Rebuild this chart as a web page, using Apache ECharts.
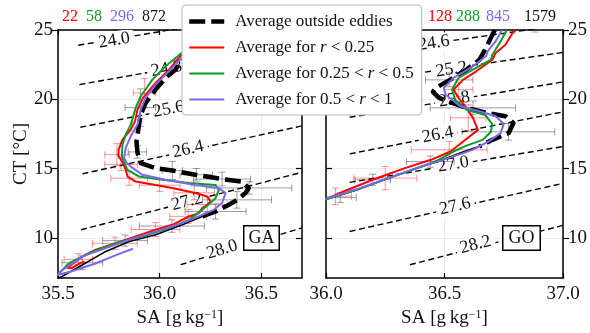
<!DOCTYPE html>
<html>
<head>
<meta charset="utf-8">
<script src="https://cdn.jsdelivr.net/npm/echarts@6/dist/echarts.min.js"></script>
<style>
  html, body { margin: 0; padding: 0; background: #ffffff; }
  #chart { width: 590px; height: 333px; }
</style>
</head>
<body>
<div id="chart"></div>
<script>
// ---- shared settings -------------------------------------------------------
const SERIF = '"Liberation Serif", "DejaVu Serif", serif';
const seriesNames = [
  'Average outside eddies',
  'Average for r < 0.25',
  'Average for 0.25 < r < 0.5',
  'Average for 0.5 < r < 1'
];
const seriesColors = ['#000000', '#ff0000', '#0c9a26', '#7b68ee'];
// count labels are listed inner, middle, outer, outside
const countColors = ['#ff0000', '#0c9a26', '#7b68ee', '#111111'];
const ctTicks = [10, 15, 20, 25];
const ctRange = [7.1, 25];

// ---- GA panel ---------------------------------------------------------------
const gaTitle = 'GA';
const gaCounts = [22, 58, 296, 872];
const gaSaRange = [35.5, 36.7];
const gaSaTicks = [35.5, 36.0, 36.5];

// [SA, CT] profiles
const gaOutside = [[36.22,25.0],[36.127,23.2],[36.078,22.14],[36.029,21.54],[35.980,20.70],[35.931,19.74],
  [35.907,18.89],[35.896,17.93],[35.886,16.97],[35.891,16.13],[35.907,15.39],[35.980,15.03],[36.062,14.86],
  [36.176,14.55],[36.307,14.24],[36.405,14.06],[36.438,13.59],[36.422,13.23],[36.381,12.74],[36.340,12.38],
  [36.275,11.90],[36.209,11.54]];
const gaOutsideDeep = [[36.209,11.54],[36.111,10.94],[35.980,10.22],[35.850,9.74],[35.735,9.02],[35.621,8.06],
  [35.506,7.10],[35.49,6.99]];
const gaInner = [[36.25,25.0],[36.108,23.22],[36.046,22.14],[35.980,21.18],[35.918,20.10],[35.891,19.25],
  [35.879,18.42],[35.858,17.81],[35.817,17.09],[35.798,16.37],[35.797,15.92],[35.817,15.48],[35.833,14.91],
  [35.842,14.42],[35.882,14.06],[35.980,13.82],[36.062,13.59],[36.176,13.23],[36.234,12.98],[36.250,12.62],
  [36.234,12.38],[36.209,12.14],[36.193,11.78],[36.144,11.54],[36.062,10.94],[35.980,10.58],[35.882,10.10],
  [35.784,9.62],[35.686,9.14],[35.621,8.66],[35.555,7.93],[35.545,7.85],[35.565,7.80],[35.600,8.10],[35.630,8.30]];
const gaMid = [[36.24,25.0],[36.108,23.34],[36.029,22.38],[35.964,21.42],[35.907,20.22],[35.882,19.38],
  [35.858,18.17],[35.833,17.45],[35.817,16.73],[35.814,15.89],[35.825,15.48],[35.842,14.91],[35.899,14.42],
  [36.013,14.19],[36.144,13.95],[36.275,13.82],[36.291,13.46],[36.275,12.87],[36.250,12.51],[36.209,12.02],
  [36.144,11.30],[36.046,10.70],[35.915,10.10],[35.784,9.62],[35.653,8.90],[35.555,8.18],[35.49,7.21]];
const gaOuter = [[36.23,25.0],[36.108,22.98],[36.046,22.02],[35.980,21.06],[35.931,20.10],[35.907,19.25],
  [35.891,18.17],[35.858,17.34],[35.833,16.49],[35.825,15.77],[35.838,15.41],[35.858,15.14],[35.915,14.55],
  [36.029,14.19],[36.176,13.82],[36.291,13.59],[36.324,13.23],[36.307,12.51],[36.266,12.02],[36.209,11.66],
  [36.111,11.06],[35.980,10.46],[35.850,9.86],[35.735,9.26],[35.621,8.66],[35.510,7.55],[35.500,7.33],
  [35.559,7.55],[35.681,8.13],[35.779,8.71],[35.868,9.21]];

// [SA, CT, SA spread, CT spread]
const gaOutsideErr = [[35.905,19.4,0.075,1.35],[35.89,16.2,0.045,0.45],[36.062,14.86,0.05,0.65],
  [36.18,14.55,0.08,0.45],[36.307,14.24,0.14,0.5],[36.44,13.6,0.21,0.45],[36.38,12.74,0.17,0.6],
  [36.275,11.9,0.15,0.55],[36.06,10.85,0.16,0.45],[35.83,9.8,0.11,0.4],[35.62,8.2,0.1,0.5]];
const gaInnerErr = [[35.925,20.45,0.055,1.05],[35.79,16.0,0.06,0.8],[35.81,15.3,0.08,0.45],
  [35.85,14.3,0.09,0.5],[36.0,13.8,0.1,0.45],[36.17,13.25,0.1,0.5],[36.235,12.4,0.1,0.55],
  [36.14,11.55,0.09,0.5],[35.98,10.6,0.12,0.5],[35.78,9.6,0.11,0.45],[35.6,8.45,0.07,0.4]];

// potential density isolines: level, end points, label anchor
const gaContourLevels = ['24.0', '24.8', '25.6', '26.4', '27.2', '28.0'];
const gaContourPaths = [[[35.6,23.9],[36.09,25.1]], [[35.605,21.06],[36.7,23.9]], [[35.61,17.98],[36.7,21.1]],
  [[35.62,14.62],[36.7,18.08]], [[35.613,10.58],[36.7,14.73]], [[36.103,8.06],[36.7,10.72]]];
const gaContourLabelAt = [[35.777,24.24],[36.034,22.2],[36.044,19.27],[36.14,16.38],[36.135,12.6],[36.307,9.14]];

// ---- GO panel ---------------------------------------------------------------
const goTitle = 'GO';
const goCounts = [128, 288, 845, 1579];
const goSaRange = [36.0, 37.0];
const goSaTicks = [36.0, 36.5, 37.0];

const goOutside = [[36.713,25.0],[36.702,24.66],[36.675,23.70],[36.648,22.86],[36.593,22.14],[36.525,21.42],
  [36.463,20.82],[36.451,20.53],[36.477,20.10],[36.532,19.74],[36.593,19.38],[36.675,19.02],[36.757,18.78],
  [36.791,18.29],[36.771,17.57],[36.702,17.07],[36.648,16.60]];
const goOutsideDeep = [[36.648,16.60],[36.574,16.17],[36.467,15.48],[36.402,15.14],[36.265,14.31],[36.128,13.46],
  [35.992,12.74],[35.95,12.45]];
const goInner = [[36.795,25.0],[36.757,23.94],[36.716,23.34],[36.702,22.86],[36.634,22.02],[36.579,21.42],
  [36.538,20.70],[36.559,20.10],[36.593,19.38],[36.620,18.66],[36.641,17.79],[36.579,16.95],[36.525,16.23],
  [36.443,15.63],[36.333,15.03],[36.197,14.19],[36.074,13.34],[35.992,12.74],[35.95,12.45]];
const goMid = [[36.763,25.0],[36.737,24.19],[36.702,23.22],[36.696,22.86],[36.620,22.14],[36.559,21.54],
  [36.532,20.70],[36.545,19.97],[36.593,19.25],[36.672,18.87],[36.701,18.22],[36.696,17.65],[36.661,17.07],
  [36.590,16.64],[36.538,16.23],[36.467,15.56],[36.402,15.12],[36.265,14.31],[36.128,13.46],[35.992,12.74],[35.95,12.45]];
const goOuter = [[36.743,25.0],[36.716,24.19],[36.682,23.46],[36.675,23.10],[36.620,22.38],[36.538,21.54],
  [36.497,20.82],[36.504,20.34],[36.566,19.50],[36.648,19.14],[36.716,18.78],[36.750,18.22],[36.737,17.57],
  [36.689,16.98],[36.620,16.37],[36.579,16.11],[36.467,15.48],[36.402,15.16],[36.265,14.33],[36.128,13.50],
  [35.992,12.78],[35.95,12.5]];

const goOutsideErr = [[36.52,21.4,0.1,0.5],[36.62,19.38,0.18,0.5],[36.77,17.65,0.195,0.6],[36.44,15.5,0.1,0.4],
  [36.197,14.19,0.075,0.4],[36.06,12.9,0.068,0.35]];
const goInnerErr = [[36.88,25.6,0.05,0.75],[36.56,20.7,0.06,0.5],[36.60,18.66,0.075,0.95],[36.52,16.35,0.16,0.6],
  [36.25,14.31,0.133,0.84],[36.04,13.0,0.068,0.6]];

const goContourLevels = ['24.6', '25.2', '25.8', '26.4', '27.0', '27.6', '28.2'];
const goContourPaths = [[[36.1,23.2],[36.9,25.12]], [[36.1,21.19],[37.0,23.38]], [[36.1,18.70],[37.0,21.25]],
  [[36.1,16.06],[37.0,19.09]], [[36.1,14.0],[37.0,16.59]], [[36.1,10.46],[37.0,13.93]], [[36.354,8.06],[37.0,10.9]]];
const goContourLabelAt = [[36.455,24.06],[36.529,22.15],[36.541,19.99],[36.472,17.43],[36.537,15.30],[36.545,12.27],[36.631,9.5]];

// ---- builders ---------------------------------------------------------------
const spine = { color: '#000', width: 1.5 };
const tickLine = { color: '#000', width: 1.2 };

function panelAxes(gi, saRange, saTicks, ctSide, withCtName) {
  const xs = [
    {
      type: 'value', gridIndex: gi, position: 'bottom', min: saRange[0], max: saRange[1],
      axisLine: { show: true, onZero: false, lineStyle: spine },
      axisTick: { show: true, inside: true, length: 5, customValues: saTicks, lineStyle: tickLine },
      axisLabel: { customValues: saTicks, formatter: v => v.toFixed(1), fontFamily: SERIF, fontSize: 19, color: '#111', margin: 7 },
      splitLine: { show: true, lineStyle: { color: '#ececec', width: 1 } },
      name: 'SA [g\u2009kg{s|\u22121}]', nameLocation: 'middle', nameGap: 30,
      nameTextStyle: { fontFamily: SERIF, fontSize: 19, color: '#111',
        rich: { s: { fontFamily: SERIF, fontSize: 12, verticalAlign: 'top', color: '#111' } } }
    },
    {
      type: 'value', gridIndex: gi, position: 'top', min: saRange[0], max: saRange[1],
      axisLine: { show: true, onZero: false, lineStyle: spine },
      axisTick: { show: true, inside: true, length: 5, customValues: saTicks, lineStyle: tickLine },
      axisLabel: { show: false }, splitLine: { show: false }
    }
  ];
  const other = ctSide === 'left' ? 'right' : 'left';
  const ys = [
    {
      type: 'value', gridIndex: gi, position: ctSide, min: ctRange[0], max: ctRange[1],
      axisLine: { show: true, onZero: false, lineStyle: spine },
      axisTick: { show: true, inside: false, length: 6, customValues: ctTicks, lineStyle: tickLine },
      axisLabel: { customValues: ctTicks, fontFamily: SERIF, fontSize: 19, color: '#111', margin: 5 },
      splitLine: { show: true, lineStyle: { color: '#ececec', width: 1 } },
      name: withCtName ? 'CT [\u00b0C]' : '', nameLocation: 'middle', nameGap: 26, nameRotate: 90,
      nameTextStyle: { fontFamily: SERIF, fontSize: 19, color: '#111' }
    },
    {
      type: 'value', gridIndex: gi, position: other, min: ctRange[0], max: ctRange[1],
      axisLine: { show: true, onZero: false, lineStyle: spine },
      axisTick: { show: true, inside: true, length: 6, customValues: ctTicks, lineStyle: tickLine },
      axisLabel: { show: false }, splitLine: { show: false }
    }
  ];
  return { xs, ys };
}

function profile(name, data, gi, color, width, type, z) {
  return {
    type: 'line', name, data, xAxisIndex: 2 * gi, yAxisIndex: 2 * gi,
    symbol: 'none', showSymbol: false, clip: true, z, silent: true,
    itemStyle: { color },
    lineStyle: { color, width, type, cap: 'butt', join: 'round' }
  };
}

function errorBars(data, gi, color) {
  return {
    type: 'custom', data, xAxisIndex: 2 * gi, yAxisIndex: 2 * gi, z: 3, clip: true, silent: true,
    encode: { x: 0, y: 1 },
    renderItem(params, api) {
      const s = api.value(0), t = api.value(1), ds = api.value(2), dt = api.value(3);
      const a = api.coord([s - ds, t]), b = api.coord([s + ds, t]);
      const c = api.coord([s, t - dt]), d = api.coord([s, t + dt]);
      const cap = 3.5;
      const style = { stroke: color, lineWidth: 1, fill: null };
      const seg = (x1, y1, x2, y2) => ({ type: 'line', shape: { x1, y1, x2, y2 }, style });
      return { type: 'group', children: [
        seg(a[0], a[1], b[0], b[1]), seg(a[0], a[1] - cap, a[0], a[1] + cap), seg(b[0], b[1] - cap, b[0], b[1] + cap),
        seg(c[0], c[1], d[0], d[1]), seg(c[0] - cap, c[1], c[0] + cap, c[1]), seg(d[0] - cap, d[1], d[0] + cap, d[1])
      ] };
    }
  };
}

function isolines(paths, gi) {
  return paths.map(p => ({
    type: 'line', data: p, xAxisIndex: 2 * gi, yAxisIndex: 2 * gi, symbol: 'none', clip: true, z: 1, silent: true,
    lineStyle: { color: '#000', width: 1.4, type: [6, 3.5] }
  }));
}

function isolineLabels(levels, paths, at, gi) {
  return {
    type: 'custom', xAxisIndex: 2 * gi, yAxisIndex: 2 * gi, z: 2, clip: true, silent: true,
    data: at.map((p, i) => [p[0], p[1], i]), encode: { x: 0, y: 1 },
    renderItem(params, api) {
      const i = api.value(2);
      const path = paths[i];
      const p0 = api.coord(path[0]), p1 = api.coord(path[path.length - 1]);
      const angle = Math.atan2(p0[1] - p1[1], p1[0] - p0[0]);
      const c = api.coord([api.value(0), api.value(1)]);
      return {
        type: 'text', x: c[0], y: c[1], rotation: angle,
        style: { text: levels[i], fontFamily: SERIF, fontSize: 18, fill: '#111', align: 'center',
          verticalAlign: 'middle', backgroundColor: '#fff', padding: [0, 4] }
      };
    }
  };
}

function countTexts(counts, xs, y) {
  return counts.map((n, i) => ({
    type: 'text', left: xs[i], top: y, z: 30,
    style: { text: String(n), fontFamily: SERIF, fontSize: 16, fill: countColors[i] }
  }));
}

function regionBox(text, left, top, padX) {
  return {
    type: 'text', left, top, z: 25,
    style: { text, fontFamily: SERIF, fontSize: 18, fill: '#111', backgroundColor: '#fff',
      borderColor: '#000', borderWidth: 1.5, padding: [3, padX, 2, padX] }
  };
}

function panelSeries(gi, outside, outsideDeep, inner, mid, outer, outsideErr, innerErr, levels, paths, at) {
  return [
    ...isolines(paths, gi),
    isolineLabels(levels, paths, at, gi),
    errorBars(outsideErr, gi, 'rgba(0,0,0,0.38)'),
    errorBars(innerErr, gi, 'rgba(255,0,0,0.42)'),
    profile(seriesNames[0], outside, gi, seriesColors[0], 4.5, [16, 6], 4),
    profile('', outsideDeep, gi, seriesColors[0], 1.6, 'solid', 4),
    profile(seriesNames[1], inner, gi, seriesColors[1], 2, 'solid', 5),
    profile(seriesNames[2], mid, gi, seriesColors[2], 2, 'solid', 6),
    profile(seriesNames[3], outer, gi, seriesColors[3], 2, 'solid', 7)
  ];
}

// ---- chart ------------------------------------------------------------------
const ga = panelAxes(0, gaSaRange, gaSaTicks, 'left', true);
const go = panelAxes(1, goSaRange, goSaTicks, 'right', false);

const chart = echarts.init(document.getElementById('chart'), null, { renderer: 'canvas' });
chart.setOption({
  animation: false,
  backgroundColor: '#ffffff',
  grid: [
    { left: 58, top: 30, width: 244, height: 248 },
    { left: 326, top: 30, width: 244, height: 248 }
  ],
  xAxis: [...ga.xs, ...go.xs],
  yAxis: [...ga.ys, ...go.ys],
  legend: {
    data: seriesNames, orient: 'vertical', left: 182, top: 5, z: 20,
    itemWidth: 35, itemHeight: 14, itemGap: 9, padding: [8, 8, 7, 5],
    backgroundColor: '#ffffff', borderColor: '#b5b5b5', borderWidth: 1, borderRadius: 4,
    selectedMode: false,
    // only the line sample is wanted in each key, not the marker drawn on it
    itemStyle: { opacity: 0 },
    lineStyle: { width: 'inherit', opacity: 1 },
    formatter: name => name.replace(' r ', ' {i|r} '),
    textStyle: { fontFamily: SERIF, fontSize: 17, color: '#111', padding: [0, 0, 0, 6],
      rich: { i: { fontFamily: SERIF, fontSize: 17, fontStyle: 'italic', color: '#111' } } }
  },
  graphic: [
    ...countTexts(gaCounts, [62, 86, 110, 142], 9),
    ...countTexts(goCounts, [428, 456, 486, 524], 9),
    regionBox(gaTitle, 243, 225, 4),
    regionBox(goTitle, 502, 225, 5)
  ],
  series: [
    ...panelSeries(0, gaOutside, gaOutsideDeep, gaInner, gaMid, gaOuter, gaOutsideErr, gaInnerErr,
      gaContourLevels, gaContourPaths, gaContourLabelAt),
    ...panelSeries(1, goOutside, goOutsideDeep, goInner, goMid, goOuter, goOutsideErr, goInnerErr,
      goContourLevels, goContourPaths, goContourLabelAt)
  ]
});
</script>
</body>
</html>
